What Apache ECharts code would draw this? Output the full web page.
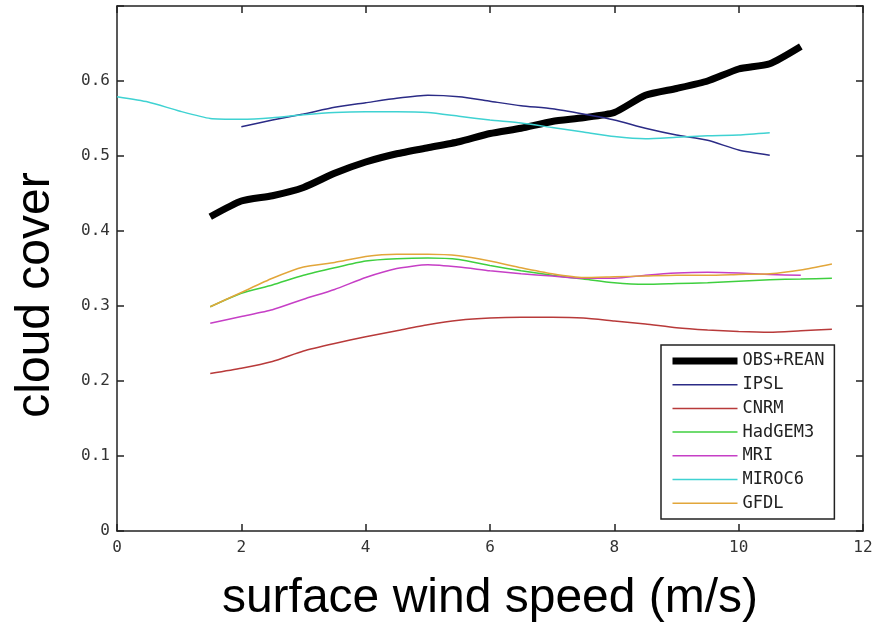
<!DOCTYPE html>
<html>
<head>
<meta charset="utf-8">
<title>Cloud cover vs surface wind speed</title>
<script src="https://cdn.jsdelivr.net/npm/echarts@6/dist/echarts.min.js"></script>
<style>
  html, body { margin: 0; padding: 0; background: #ffffff; }
  #chart { width: 884px; height: 635px; }
</style>
</head>
<body>
<div id="chart"></div>
<script>
// Wind speed bins (m/s) used by each dataset
const windObs   = [1.5, 2, 2.5, 3, 3.5, 4, 4.5, 5, 5.5, 6, 6.5, 7, 7.5, 8, 8.5, 9, 9.5, 10, 10.5, 11];
const windIpsl  = [2, 2.5, 3, 3.5, 4, 4.5, 5, 5.5, 6, 6.5, 7, 7.5, 8, 8.5, 9, 9.5, 10, 10.5];
const windMiroc = [0, 0.5, 1, 1.5, 2, 2.5, 3, 3.5, 4, 4.5, 5, 5.5, 6, 6.5, 7, 7.5, 8, 8.5, 9, 9.5, 10, 10.5];
const windLong  = [1.5, 2, 2.5, 3, 3.5, 4, 4.5, 5, 5.5, 6, 6.5, 7, 7.5, 8, 8.5, 9, 9.5, 10, 10.5, 11, 11.5];
const windMri   = [1.5, 2, 2.5, 3, 3.5, 4, 4.5, 5, 5.5, 6, 6.5, 7, 7.5, 8, 8.5, 9, 9.5, 10, 10.5, 11];

// Mean cloud cover per wind-speed bin
const obsRean = [0.419, 0.440, 0.447, 0.458, 0.477, 0.492, 0.503, 0.511, 0.519, 0.530,
                 0.537, 0.546, 0.551, 0.558, 0.581, 0.590, 0.600, 0.616, 0.623, 0.646];
const ipsl    = [0.539, 0.548, 0.556, 0.565, 0.571, 0.577, 0.581, 0.579, 0.573,
                 0.567, 0.563, 0.556, 0.548, 0.537, 0.528, 0.521, 0.508, 0.501];
const cnrm    = [0.210, 0.217, 0.226, 0.240, 0.250, 0.259, 0.267, 0.275, 0.281, 0.284, 0.285,
                 0.285, 0.284, 0.280, 0.276, 0.271, 0.268, 0.266, 0.265, 0.267, 0.269];
const hadgem3 = [0.299, 0.317, 0.328, 0.341, 0.351, 0.360, 0.363, 0.364, 0.362, 0.354, 0.347,
                 0.341, 0.336, 0.331, 0.329, 0.330, 0.331, 0.333, 0.335, 0.336, 0.337];
const mri     = [0.277, 0.286, 0.295, 0.309, 0.322, 0.338, 0.350, 0.355, 0.352, 0.347,
                 0.343, 0.340, 0.337, 0.337, 0.341, 0.344, 0.345, 0.344, 0.342, 0.341];
const miroc6  = [0.579, 0.572, 0.560, 0.550, 0.549, 0.551, 0.555, 0.558, 0.559, 0.559, 0.558,
                 0.553, 0.548, 0.544, 0.538, 0.532, 0.526, 0.523, 0.525, 0.527, 0.528, 0.531];
const gfdl    = [0.299, 0.318, 0.337, 0.352, 0.358, 0.366, 0.369, 0.369, 0.367, 0.360, 0.351,
                 0.343, 0.338, 0.339, 0.340, 0.341, 0.341, 0.342, 0.343, 0.348, 0.356];

const seriesNames  = ['OBS+REAN', 'IPSL', 'CNRM', 'HadGEM3', 'MRI', 'MIROC6', 'GFDL'];
const seriesColors = ['#000000', '#2b2b86', '#b83a3a', '#3fcf3f', '#c63fc6', '#3fd2d2', '#e2a63a'];
const seriesWidths = [7, 1.5, 1.5, 1.5, 1.5, 1.5, 1.5];
const seriesX      = [windObs, windIpsl, windLong, windLong, windMri, windMiroc, windLong];
const seriesY      = [obsRean, ipsl, cnrm, hadgem3, mri, miroc6, gfdl];

const xTicks = { min: 0, max: 12, interval: 2 };
const yTicks = { min: 0, max: 0.7, interval: 0.1 };

const tickFont = '"DejaVu Sans Mono", "Liberation Mono", monospace';
const axisColor = '#222222';

function pairs(xs, ys) {
  return xs.map((x, i) => [x, ys[i]]);
}

const series = seriesNames.map((name, i) => ({
  name: name,
  type: 'line',
  data: pairs(seriesX[i], seriesY[i]),
  symbol: 'none',
  smooth: 0.2,
  z: i === 0 ? 2 : 3,
  lineStyle: { color: seriesColors[i], width: seriesWidths[i] },
  itemStyle: { color: seriesColors[i] },
  emphasis: { disabled: true },
  animation: false
}));

// Legend entries: plain line samples, the observation line drawn thick
const legendItems = seriesNames.map((name, i) => ({
  name: name,
  lineStyle: { color: seriesColors[i], width: seriesWidths[i] },
  itemStyle: { opacity: 0 }
}));

const chart = echarts.init(document.getElementById('chart'), null, { renderer: 'canvas' });

chart.setOption({
  backgroundColor: '#ffffff',
  animation: false,
  grid: { left: 117, right: 21, top: 6, bottom: 104, containLabel: false },
  xAxis: [
    {
      type: 'value', position: 'bottom',
      min: xTicks.min, max: xTicks.max, interval: xTicks.interval,
      axisLine: { show: true, onZero: false, lineStyle: { color: axisColor, width: 1.5 } },
      axisTick: { show: true, inside: true, length: 7, lineStyle: { color: axisColor, width: 1.5 } },
      axisLabel: { show: true, margin: 9, color: '#333333', fontFamily: tickFont, fontSize: 16 },
      splitLine: { show: false }
    },
    {
      type: 'value', position: 'top',
      min: xTicks.min, max: xTicks.max, interval: xTicks.interval,
      axisLine: { show: true, onZero: false, lineStyle: { color: axisColor, width: 1.5 } },
      axisTick: { show: true, inside: true, length: 7, lineStyle: { color: axisColor, width: 1.5 } },
      axisLabel: { show: false },
      splitLine: { show: false }
    }
  ],
  yAxis: [
    {
      type: 'value', position: 'left',
      min: yTicks.min, max: yTicks.max, interval: yTicks.interval,
      axisLine: { show: true, onZero: false, lineStyle: { color: axisColor, width: 1.5 } },
      axisTick: { show: true, inside: true, length: 7, lineStyle: { color: axisColor, width: 1.5 } },
      axisLabel: {
        show: true, margin: 7, color: '#333333', fontFamily: tickFont, fontSize: 16,
        formatter: v => (v > 0.65 ? '' : String(Math.round(v * 10) / 10))
      },
      splitLine: { show: false }
    },
    {
      type: 'value', position: 'right',
      min: yTicks.min, max: yTicks.max, interval: yTicks.interval,
      axisLine: { show: true, onZero: false, lineStyle: { color: axisColor, width: 1.5 } },
      axisTick: { show: true, inside: true, length: 7, lineStyle: { color: axisColor, width: 1.5 } },
      axisLabel: { show: false },
      splitLine: { show: false }
    }
  ],
  legend: {
    data: legendItems,
    orient: 'vertical',
    left: 661,
    top: 345,
    padding: [7.5, 10, 7.3, 8],
    itemWidth: 65,
    itemHeight: 14,
    itemGap: 6.7,
    backgroundColor: '#ffffff',
    borderColor: axisColor,
    borderWidth: 1.5,
    selectedMode: false,
    itemStyle: { opacity: 0 },
    textStyle: { color: '#222222', fontFamily: tickFont, fontSize: 17, lineHeight: 14 }
  },
  graphic: [
    {
      type: 'text',
      x: 490, y: 599,
      style: {
        text: 'surface wind speed (m/s)',
        font: '48px "Liberation Sans", Arial, sans-serif',
        fill: '#000000',
        textAlign: 'center',
        textVerticalAlign: 'middle'
      }
    },
    {
      type: 'text',
      x: 36, y: 295,
      rotation: Math.PI / 2,
      style: {
        text: 'cloud cover',
        font: '48px "Liberation Sans", Arial, sans-serif',
        fill: '#000000',
        textAlign: 'center',
        textVerticalAlign: 'middle'
      }
    }
  ],
  series: series
});
</script>
</body>
</html>
